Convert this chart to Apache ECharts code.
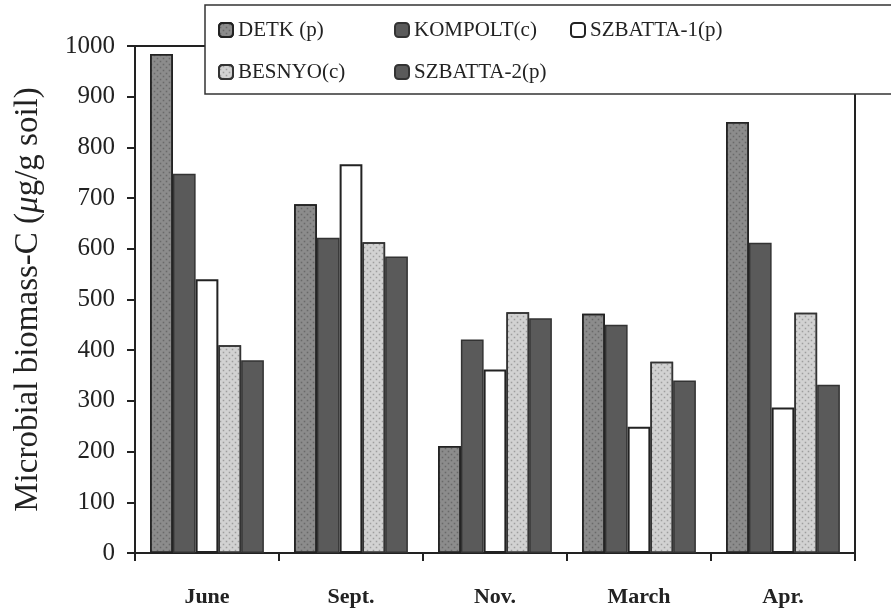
<!DOCTYPE html>
<html><head><meta charset="utf-8">
<script src="https://cdn.jsdelivr.net/npm/echarts@6/dist/echarts.min.js"></script>
<style>html,body{margin:0;padding:0;background:#fff}#c{width:891px;height:613px}</style>
</head><body><div id="c"></div>
<script>
var categories = ['June', 'Sept.', 'Nov.', 'March', 'Apr.'];
var seriesNames = ['DETK (p)', 'KOMPOLT(c)', 'SZBATTA-1(p)', 'BESNYO(c)', 'SZBATTA-2(p)'];
var detk = [984, 688, 211, 472, 850];
var kompolt = [748, 622, 421, 450, 612];
var szbatta1 = [540, 767, 362, 249, 287];
var besnyo = [410, 613, 475, 377, 474];
var szbatta2 = [380, 585, 463, 340, 332];
var yTicks = [0, 1000, 100];

var FONT = '"Liberation Serif", "Times New Roman", "DejaVu Serif", serif';
var chart = echarts.init(document.getElementById('c'));
var styles = [
  {color: '#8c8c8c', borderColor: '#222', borderWidth: 1.5,
   decal: {symbol: 'rect', symbolSize: 0.5, dashArrayX: [[3, 3], [0, 3, 3, 0]], dashArrayY: [3, 0], color: 'rgba(40,40,40,0.35)'}},
  {color: '#5a5a5a', borderColor: '#333', borderWidth: 1.5},
  {color: '#ffffff', borderColor: '#222', borderWidth: 2},
  {color: '#d2d2d2', borderColor: '#333', borderWidth: 1.5,
   decal: {symbol: 'rect', symbolSize: 0.5, dashArrayX: [[3, 3], [0, 3, 3, 0]], dashArrayY: [3, 0], color: 'rgba(60,60,60,0.35)'}},
  {color: '#5a5a5a', borderColor: '#333', borderWidth: 1.5}
];
var dataArr = [detk, kompolt, szbatta1, besnyo, szbatta2];
var series = seriesNames.map(function (n, i) {
  return {
    name: n, type: 'bar', data: dataArr[i],
    barGap: '0%', barCategoryGap: '21%',
    itemStyle: styles[i]
  };
});

chart.setOption({
  animation: false,
  aria: {enabled: false},
  grid: {left: 135, right: 36, top: 46, bottom: 60, show: true, borderColor: '#222', borderWidth: 2, backgroundColor: 'transparent'},
  legend: {
    left: 205, top: 5, width: 560,
    padding: [4, 200, 1, 13],
    backgroundColor: '#fff', borderColor: '#333', borderWidth: 1.5,
    itemWidth: 14, itemHeight: 14, itemGap: 0,
    textStyle: {fontFamily: FONT, fontSize: 21, color: '#222', width: 156, lineHeight: 42},
    data: seriesNames
  },
  xAxis: {
    type: 'category', data: categories,
    axisLine: {lineStyle: {color: '#222', width: 2}},
    axisTick: {show: true, length: 8, lineStyle: {color: '#222', width: 2}},
    axisLabel: {fontFamily: FONT, fontSize: 22, fontWeight: 'bold', color: '#222', margin: 33}
  },
  yAxis: {
    type: 'value', min: yTicks[0], max: yTicks[1], interval: yTicks[2],
    name: 'Microbial biomass-C ({i|μ}g/g soil)',
    nameLocation: 'middle', nameGap: 90,
    nameTextStyle: {fontFamily: FONT, fontSize: 33, color: '#222',
      rich: {i: {fontFamily: FONT, fontSize: 33, fontStyle: 'italic', color: '#222'}}},
    axisLine: {show: true, lineStyle: {color: '#222', width: 2}},
    axisTick: {show: true, length: 8, lineStyle: {color: '#222', width: 2}},
    splitLine: {show: false},
    axisLabel: {fontFamily: FONT, fontSize: 25, color: '#222', margin: 20,
      formatter: function (v) { return String(v); }}
  },
  series: series
});
</script></body></html>
